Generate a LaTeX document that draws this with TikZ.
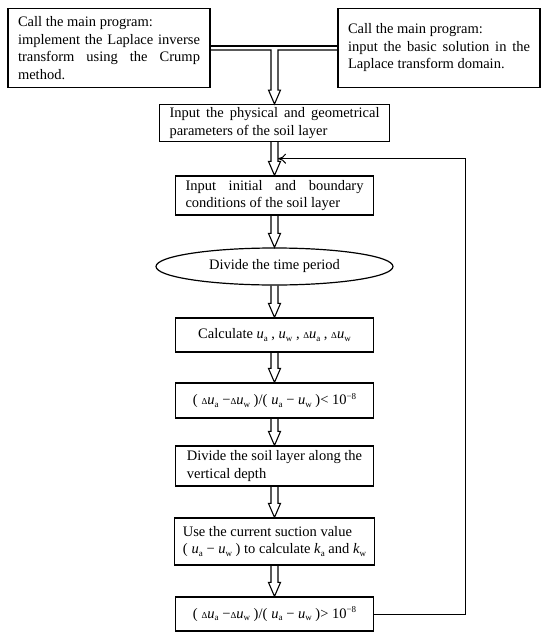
\documentclass[tikz,border=0pt]{standalone}
\usepackage{fontspec}
\setmainfont{Liberation Serif}
\usepackage{tikz}
\usetikzlibrary{
    arrows.meta,
    shapes.geometric,
    calc
}
\hyphenpenalty=10000
\exhyphenpenalty=10000
\newcommand{\mainsz}{\fontsize{14.5}{17.5}\selectfont}
\newcommand{\lowidx}[1]{\raisebox{-0.35ex}{\fontsize{9}{9}\selectfont #1}}
\newcommand{\upidx}[1]{\raisebox{0.85ex}{\fontsize{9}{9}\selectfont #1}}
\newcommand{\uA}{\textit{u}\lowidx{a}}
\newcommand{\uW}{\textit{u}\lowidx{w}}
\newcommand{\kA}{\textit{k}\lowidx{a}}
\newcommand{\kW}{\textit{k}\lowidx{w}}
\newcommand{\dlt}{{\fontsize{9}{9}\selectfont Δ}}
\newcommand{\hollow}[2]{%
    \draw[flowline]
    ($(#1)+(-3.5,0)$) -- ($(#2)+(-3.5,-14)$) -- ($(#2)+(-6,-14)$) -- (#2)
    -- ($(#2)+(6,-14)$) -- ($(#2)+(3.5,-14)$) -- ($(#1)+(3.5,0)$);}

\begin{document}
\begin{tikzpicture}[x=1pt, y=-1pt,
        box/.style={draw, line width=1.2pt, font=\mainsz, inner xsep=8pt, inner ysep=3pt, minimum width=198pt},
        jbox/.style={box, align=justify, text width=#1},
        flowline/.style={line width=1.1pt},
        fbline/.style={line width=1pt, -{To[length=8pt, width=10pt]}}]
    \useasboundingbox (0, 0) rectangle (550, 637);

    % upper calls
    \node[jbox=182pt, minimum height=79pt, inner xsep=10pt] (callL) at (109, 48)
        {Call the main program:\\ implement the Laplace inverse transform using the Crump method.};
    \node[jbox=182pt, minimum height=79pt, inner xsep=10pt] (callR) at (439, 48)
        {Call the main program:\\ input the basic solution in the Laplace transform domain.};

    % main column
    \node[jbox=210pt, minimum height=36pt, inner xsep=10pt] (phys) at (274.5, 123)
        {Input the physical and geometrical parameters of the soil layer};
    \node[jbox=178pt, minimum height=39pt] (init) at (274.5, 195.5)
        {Input initial and boundary conditions of the soil layer};
    \node[draw, ellipse, line width=1.2pt, font=\mainsz, minimum width=237pt, minimum height=37pt, inner sep=0pt]
        (time) at (274.5, 266.5) {Divide the time period};
    \node[box, minimum height=34pt] (calc) at (274.5, 335)
        {Calculate \uA\ , \uW\ , \dlt\uA\ , \dlt\uW};
    \node[box, minimum height=35pt] (lt) at (274.5, 400.5)
        {(\;\dlt\uA\ −\dlt\uW\ )/(\;\uA\ − \uW\ )< 10\upidx{−8}};
    \node[box, align=left, minimum height=40pt] (divide) at (274.5, 466)
        {Divide the soil layer along the\\ vertical depth};
    \node[box, align=left, minimum height=47pt] (use) at (274.5, 541.5)
        {Use the current suction value\\ (\;\uA\ − \uW\ ) to calculate \kA\ and \kW};
    \node[box, minimum height=34pt] (gt) at (274.5, 614)
        {(\;\dlt\uA\ −\dlt\uW\ )/(\;\uA\ − \uW\ )> 10\upidx{−8}};

    % joining of the two calls
    \coordinate (join) at (phys.north |- callL.east);
    \draw[flowline] ($(callL.east)+(0,-2)$) -- ($(callR.west)+(0,-2)$);
    \draw[flowline]
    ($(callL.east)+(0,2)$) -- ($(join)+(-3.5,2)$) -- ($(phys.north)+(-3.5,-14)$)
    -- ($(phys.north)+(-6,-14)$) -- (phys.north) -- ($(phys.north)+(6,-14)$)
    -- ($(phys.north)+(3.5,-14)$) -- ($(join)+(3.5,2)$) -- ($(callR.west)+(0,2)$);

    \hollow{phys.south}{init.north}
    \hollow{init.south}{time.north}
    \hollow{time.south}{calc.north}
    \hollow{calc.south}{lt.north}
    \hollow{lt.south}{divide.north}
    \hollow{divide.south}{use.north}
    \hollow{use.south}{gt.north}

    % loop back
    \coordinate (fb) at ($(phys.south)!0.5!(init.north) + (3.5, 0)$);
    \draw[fbline] (gt.east) -- ++(91, 0) |- (fb);
\end{tikzpicture}
\end{document}
